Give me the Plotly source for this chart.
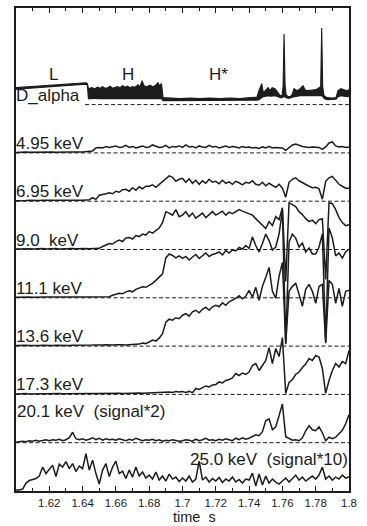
import numpy as np
import plotly.graph_objects as go

# ---------------------------------------------------------------------------
# Soft X-ray spectrometer channels, sampled every 2 ms from 1.60 s to 1.80 s
# (stacked, each channel drawn on its own zero line)
# ---------------------------------------------------------------------------
time_s = np.round(np.linspace(1.6, 1.8, 101), 4)

ch_4_95 = [
    0.5, 0.8, 0.6, 0.9, 0.7, 0.8, 0.6, 1.0, 0.7, 0.9,
    0.8, 1.0, 0.7, 0.9, 1.1, 0.8, 1.0, 0.9, 1.2, 1.0,
    1.0, 1.1, 1.3, 2.0, 5.0, 5.5, 5.0, 6.5, 5.5, 6.0,
    7.0, 5.5, 6.0, 7.5, 5.5, 6.5, 5.0, 6.0, 7.0, 5.5,
    6.0, 8.0, 6.5, 5.5, 6.0, 7.5, 5.0, 6.5, 6.0, 7.0,
    5.5, 8.0, 6.0, 6.5, 5.0, 7.0, 6.0, 5.5, 7.5, 6.0,
    6.5, 5.0, 6.0, 7.0, 5.5, 6.5, 6.0, 5.0, 6.5, 5.5,
    6.0, 5.0, 5.5, 4.5, 6.0, 5.0, 6.5, 5.0, 5.5, 5.0,
    5.0, 2.5, 5.0, 8.0, 9.0, 7.5, 6.5, 6.0, 5.5, 6.0,
    6.0, 5.5, 3.5, 6.0, 10.0, 11.0, 7.0, 6.0, 6.5, 5.5,
    6.0]

ch_6_95 = [
    0.5, 0.8, 0.6, 0.7, 0.9, 0.6, 0.8, 0.7, 0.9, 0.8,
    0.7, 0.9, 0.8, 1.0, 0.8, 0.9, 1.0, 0.8, 1.1, 0.9,
    1.0, 1.2, 1.5, 3.5, 1.8, 6.0, 6.5, 7.5, 8.5, 7.5,
    10.0, 9.0, 11.5, 12.0, 10.0, 13.5, 11.0, 14.5, 12.5, 15.0,
    15.0, 16.5, 14.0, 17.0, 20.0, 23.5, 25.5, 24.0, 20.0, 22.0,
    23.0, 19.0, 22.5, 18.0, 21.0, 17.0, 20.5, 18.0, 22.0, 19.0,
    20.0, 17.5, 21.0, 18.0, 19.5, 17.0, 20.0, 18.5, 16.5, 19.0,
    18.0, 20.5, 17.0, 16.0, 19.0, 15.5, 18.0, 16.0, 14.0, 17.0,
    13.0, 4.0, 19.0, 22.0, 23.5, 20.5, 18.5, 17.0, 15.0, 13.5,
    14.0, 12.5, 2.0, 20.0, 23.5, 25.0, 21.0, 17.0, 15.0, 13.0,
    13.0]

ch_9_0 = [
    0.6, 0.8, 0.5, 0.9, 0.7, 0.6, 0.8, 0.7, 0.9, 0.6,
    0.8, 0.7, 0.9, 0.6, 0.8, 1.0, 0.7, 0.9, 0.8, 1.0,
    0.8, 1.0, 0.7, 1.0, 0.9, 1.2, 3.0, 4.5, 6.0, 5.5,
    8.0, 9.5, 8.0, 11.5, 12.0, 10.5, 14.0, 13.0, 15.5, 14.5,
    18.0, 16.5, 19.5, 21.5, 27.0, 38.0, 36.5, 34.5, 40.0, 33.0,
    34.5, 38.0, 33.0, 36.5, 31.5, 34.5, 36.5, 32.0, 35.5, 38.0,
    34.5, 36.5, 38.5, 34.5, 37.5, 36.0, 38.0, 40.0, 38.5, 37.0,
    36.0, 34.5, 31.0, 28.0, 24.5, 21.0, 28.0, 24.0, 33.0, 30.0,
    42.0, -32.0, 47.0, 45.0, 43.0, 38.0, 35.0, 31.0, 28.0, 29.5,
    26.0, 30.0, 31.0, -30.0, 47.0, 46.0, 40.0, 32.0, 27.0, 24.0,
    25.0]

ch_11_1 = [
    0.6, 0.8, 0.5, 0.7, 0.9, 0.6, 0.8, 0.7, 0.5, 0.8,
    0.7, 0.9, 0.6, 0.8, 0.7, 0.9, 0.8, 0.6, 0.9, 0.7,
    0.8, 1.0, 0.9, 1.1, 0.8, 1.0, 1.2, 0.9, 1.1, 2.5,
    3.5, 4.5, 4.0, 6.0, 7.0, 6.0, 8.5, 9.5, 11.0, 10.5,
    12.5, 14.5, 17.5, 21.0, 24.0, 40.0, 44.0, 42.5, 40.0, 42.0,
    39.5, 41.5, 38.0, 41.0, 43.5, 39.5, 42.5, 45.0, 41.5, 43.5,
    44.5, 46.0, 43.0, 47.5, 45.0, 48.0, 47.0, 50.5, 49.0, 52.5,
    49.5, 61.0, 52.5, 46.0, 54.5, 64.0, 57.5, 48.0, 51.0, 64.0,
    88.0, -45.0, 56.0, 64.0, 60.0, 51.0, 55.0, 46.0, 50.0, 44.0,
    44.0, 51.0, 64.0, -44.0, 70.0, 60.0, 42.0, 45.0, 40.0, 46.0,
    49.0]

ch_13_6 = [
    0.5, 0.8, 0.6, 0.9, 0.7, 0.5, 0.8, 0.6, 0.9, 0.7,
    0.8, 0.6, 0.9, 0.7, 1.0, 0.8, 0.6, 0.9, 0.8, 1.0,
    0.9, 1.1, 0.8, 1.0, 1.2, 0.9, 1.1, 1.3, 1.0, 1.2,
    1.3, 1.0, 1.4, 1.2, 1.6, 1.3, 1.8, 2.0, 3.0, 2.5,
    4.5, 6.0, 5.0, 8.0, 12.5, 24.0, 27.0, 26.0, 28.5, 27.5,
    31.0, 32.5, 30.0, 34.5, 36.0, 33.5, 37.0, 39.0, 36.0, 39.5,
    41.0, 39.5, 43.5, 41.0, 44.5, 46.0, 48.0, 50.5, 47.5, 50.0,
    56.0, 49.0, 59.0, 46.0, 60.0, 69.0, 79.0, 55.0, 48.0, 70.0,
    84.0, 2.0, 55.0, 60.0, 63.0, 52.0, 40.0, 57.0, 62.0, 55.0,
    43.0, 60.0, 62.0, 3.0, 66.0, 62.0, 43.0, 58.0, 40.0, 55.0,
    56.0]

ch_17_3 = [
    0.5, 0.7, 0.6, 0.8, 0.5, 0.7, 0.6, 0.8, 0.7, 0.6,
    0.8, 0.6, 0.7, 0.9, 0.7, 0.8, 0.6, 0.9, 0.7, 0.8,
    0.7, 0.9, 0.8, 1.0, 0.8, 0.9, 1.1, 0.8, 1.0, 0.9,
    1.0, 1.2, 0.9, 1.1, 1.3, 1.0, 1.2, 1.4, 1.1, 1.3,
    1.2, 1.5, 1.3, 1.8, 1.6, 2.2, 2.5, 2.0, 2.8, 2.4,
    2.8, 2.0, 3.0, 1.8, 6.0, 5.0, 7.0, 8.5, 7.5, 9.5,
    10.0, 12.5, 11.5, 14.0, 15.0, 16.5, 21.0, 19.0, 21.5, 20.0,
    22.5, 29.0, 31.0, 24.0, 29.0, 34.0, 47.0, 31.0, 46.0, 38.0,
    57.0, 1.0, 12.0, 15.0, 20.0, 22.5, 27.0, 30.5, 36.0, 34.0,
    39.0, 37.5, 26.0, 1.0, 14.0, 24.0, 31.0, 27.5, 33.0, 31.0,
    44.0]

ch_20_1 = [  # signal x2
    0.5, 1.0, 1.5, 1.0, 2.0, 1.5, 2.5, 1.5, 2.0, 3.0,
    2.0, 3.0, 2.5, 3.5, 2.0, 3.0, 5.0, 10.5, 4.0, 3.0,
    4.0, 2.5, 3.5, 5.0, 3.0, 4.5, 2.5, 4.0, 3.0, 3.5,
    2.5, 4.0, 3.0, 2.0, 3.5, 2.5, 4.5, 3.0, 2.0, 3.0,
    2.5, 3.5, 2.0, 3.0, 1.5, 2.5, 2.0, 3.0, 2.5, 1.5,
    2.0, 3.0, 2.5, 1.5, 3.5, 2.0, 3.0, 4.5, 2.5, 3.0,
    2.0, 3.5, 2.5, 4.0, 3.0, 2.0, 4.5, 3.0, 5.0, 3.5,
    4.5, 6.0, 8.0, 7.0, 11.0, 22.0, 24.0, 13.0, 16.0, 27.0,
    39.0, 6.0, 4.0, 2.5, 3.0, 2.0, 5.0, 12.0, 17.0, 13.0,
    12.0, 16.0, 10.0, 2.0, 5.5, 4.0, 5.5, 9.0, 12.5, 19.0,
    28.0]

ch_25_0 = [  # signal x10
    1.0, 1.0, 2.0, 8.0, 10.5, 11.5, 12.5, 15.0, 24.0, 17.5,
    21.5, 26.0, 14.5, 27.0, 24.0, 29.5, 22.5, 27.5, 19.5, 25.0,
    22.5, 37.5, 21.0, 31.0, 17.5, 7.0, 21.0, 27.5, 14.5, 24.0,
    30.0, 17.5, 20.0, 12.5, 21.0, 14.0, 24.0, 15.0, 19.0, 13.0,
    16.0, 12.0, 19.0, 11.0, 15.0, 10.0, 17.0, 12.0, 14.0, 9.5,
    13.0, 10.0, 15.0, 9.0, 12.0, 30.0, 11.0, 14.0, 9.0, 12.5,
    10.0, 13.5, 8.5, 12.0, 10.0, 14.0, 9.0, 11.5, 8.0, 12.0,
    11.0, 18.0, 5.0, 17.0, 6.0, 15.0, 8.0, 12.0, 9.0, 7.0,
    10.0, 13.0, 9.0, 12.0, 16.0, 11.0, 14.0, 10.0, 13.0, 15.0,
    12.0, 16.0, 24.0, 12.0, 15.0, 11.0, 14.0, 12.0, 16.0, 13.0,
    14.0]

# D_alpha envelope (upper / lower edge of the fast-oscillating signal)
dalpha_t = [
    1.6000, 1.6080, 1.6144, 1.6220, 1.6294, 1.6360, 1.6420, 1.6429, 1.6435, 1.6455,
    1.6474, 1.6490, 1.6505, 1.6520, 1.6535, 1.6550, 1.6565, 1.6580, 1.6595, 1.6610,
    1.6625, 1.6640, 1.6655, 1.6670, 1.6685, 1.6700, 1.6715, 1.6733, 1.6745, 1.6757,
    1.6769, 1.6785, 1.6805, 1.6820, 1.6835, 1.6853, 1.6862, 1.6874, 1.6883, 1.6925,
    1.6985, 1.7045, 1.7105, 1.7165, 1.7225, 1.7285, 1.7345, 1.7405, 1.7447, 1.7459,
    1.7476, 1.7485, 1.7502, 1.7514, 1.7526, 1.7538, 1.7556, 1.7574, 1.7586, 1.7598,
    1.7604, 1.7610, 1.7616, 1.7622, 1.7634, 1.7646, 1.7658, 1.7670, 1.7688, 1.7706,
    1.7724, 1.7736, 1.7754, 1.7778, 1.7802, 1.7820, 1.7830, 1.7836, 1.7842, 1.7850,
    1.7868, 1.7898, 1.7922, 1.7934, 1.7952, 1.7970, 1.7988, 1.8000]
dalpha_hi = [
    17.0, 18.0, 18.5, 19.5, 20.5, 21.5, 22.0, 21.0, 16.0, 17.0,
    16.0, 17.5, 16.5, 18.0, 16.5, 17.0, 18.5, 16.5, 17.5, 18.0,
    17.0, 19.0, 17.5, 18.5, 17.0, 18.0, 17.5, 20.0, 18.0, 24.0,
    19.0, 18.0, 19.5, 18.0, 19.0, 22.0, 19.0, 21.0, 7.0, 6.5,
    6.0, 6.5, 6.0, 6.5, 6.0, 6.5, 6.0, 7.0, 7.5, 14.0,
    21.0, 12.0, 15.0, 17.0, 14.0, 17.0, 16.0, 12.0, 9.0, 9.0,
    18.0, 71.0, 20.0, 10.0, 8.0, 8.0, 10.0, 16.0, 14.0, 16.0,
    19.0, 15.0, 14.0, 14.5, 15.0, 17.0, 18.0, 77.0, 18.0, 9.0,
    7.0, 6.5, 7.0, 14.0, 16.0, 15.0, 14.0, 15.0]
dalpha_lo = [
    15.5, 16.5, 17.0, 18.0, 19.0, 20.0, 20.5, 19.0, 6.0, 6.0,
    6.5, 6.0, 6.0, 6.5, 6.0, 6.0, 6.5, 6.0, 6.0, 6.5,
    6.0, 6.0, 6.5, 6.0, 6.0, 6.5, 6.0, 6.0, 6.5, 6.0,
    6.0, 6.5, 6.0, 6.0, 6.5, 6.0, 6.0, 6.0, 4.0, 4.0,
    4.0, 4.5, 4.0, 4.5, 4.0, 4.0, 4.5, 4.5, 4.5, 5.0,
    7.0, 8.0, 8.5, 9.0, 8.5, 9.0, 9.0, 8.0, 7.0, 7.0,
    8.0, 8.0, 8.0, 7.0, 6.5, 6.5, 7.5, 8.0, 9.0, 9.0,
    9.0, 9.0, 9.0, 9.0, 9.0, 9.0, 9.0, 9.0, 8.0, 6.0,
    5.0, 5.0, 5.5, 8.0, 9.0, 8.5, 8.0, 8.0]

channel_labels = [
    "D_alpha", "4.95 keV", "6.95 keV", "9.0\u00a0\u00a0keV", "11.1 keV",
    "13.6 keV", "17.3 keV", "20.1 keV\u00a0\u00a0(signal*2)",
    "25.0 keV\u00a0\u00a0(signal*10)",
]
phase_labels = ["L", "H", "H*"]
phase_times = [1.6225, 1.6670, 1.7215]

tick_vals = [1.62, 1.64, 1.66, 1.68, 1.70, 1.72, 1.74, 1.76, 1.78, 1.80]
tick_text = ["1.62", "1.64", "1.66", "1.68", "1.7", "1.72", "1.74", "1.76", "1.78", "1.8"]
minor_vals = [1.61, 1.63, 1.65, 1.67, 1.69, 1.71, 1.73, 1.75, 1.77, 1.79]

# ---------------------------------------------------------------------------
SPACING = 48.5          # vertical distance between stacked channel zero lines
INK = "#1c1c1c"
FONT = "Liberation Sans"

sxr_channels = [ch_4_95, ch_6_95, ch_9_0, ch_11_1, ch_13_6, ch_17_3, ch_20_1, ch_25_0]
n_rows = len(sxr_channels) + 1
offsets = [SPACING * (n_rows - 1 - k) for k in range(n_rows)]  # top row first

fig = go.Figure()

# zero lines (dashed) for every channel except the bottom one, which sits on the axis
for k in range(n_rows - 1):
    x_start = 1.6415 if k == 0 else 1.6
    fig.add_shape(type="line", xref="x", yref="y", x0=x_start, x1=1.8,
                  y0=offsets[k], y1=offsets[k], layer="below",
                  line=dict(color=INK, width=1, dash="4px,2.5px"))

# D_alpha: filled band between the envelopes
d_off = offsets[0]
fig.add_trace(go.Scatter(x=dalpha_t, y=[v + d_off for v in dalpha_lo], mode="lines",
                         line=dict(color=INK, width=1.1), hoverinfo="skip",
                         showlegend=False))
fig.add_trace(go.Scatter(x=dalpha_t, y=[v + d_off for v in dalpha_hi], mode="lines",
                         line=dict(color=INK, width=1.1), fill="tonexty",
                         fillcolor=INK, hoverinfo="skip", showlegend=False))

for k, values in enumerate(sxr_channels, start=1):
    assert len(values) == len(time_s)
    fig.add_trace(go.Scatter(x=time_s, y=[v + offsets[k] for v in values],
                             mode="lines", line=dict(color=INK, width=1.5),
                             hoverinfo="skip", showlegend=False))

# empty trace that carries the mirrored top axis (ticks only)
fig.add_trace(go.Scatter(x=[1.6, 1.8], y=[None, None], xaxis="x2", mode="lines",
                         hoverinfo="skip", showlegend=False))

annotations = []
label_font = dict(family=FONT, size=17, color=INK)
for k, text in enumerate(channel_labels):
    if k == n_rows - 2:          # 20.1 keV label sits higher above its zero line
        annotations.append(dict(x=1.6, y=offsets[k] + 31, xref="x", yref="y",
                                text=text, showarrow=False, xanchor="left",
                                yanchor="middle", font=label_font, xshift=-1))
    elif k == n_rows - 1:        # 25.0 keV label is right-aligned
        annotations.append(dict(x=1.8, y=offsets[k] + 32, xref="x", yref="y",
                                text=text, showarrow=False, xanchor="right",
                                yanchor="middle", font=label_font, xshift=1))
    else:
        annotations.append(dict(x=1.6, y=offsets[k], xref="x", yref="y",
                                text=text, showarrow=False, xanchor="left",
                                yanchor="bottom", font=label_font, xshift=-2,
                                yshift=-2))

for text, t in zip(phase_labels, phase_times):
    annotations.append(dict(x=t, y=offsets[0] + 30.5, xref="x", yref="y", text=text,
                            showarrow=False, xanchor="center", yanchor="middle",
                            font=label_font))

annotations.append(dict(x=1.7075, y=-0.0545, xref="x", yref="paper", text="time\u00a0\u00a0s",
                        showarrow=False, xanchor="center", yanchor="middle",
                        borderpad=0, font=dict(family=FONT, size=14.5, color=INK)))

tick_style = dict(ticks="inside", ticklen=5, tickwidth=1.2, tickcolor=INK,
                  minor=dict(tickvals=minor_vals, ticks="inside", ticklen=3,
                             tickwidth=1.2, tickcolor=INK, showgrid=False),
                  showgrid=False, zeroline=False)

fig.update_layout(
    width=367, height=526,
    margin=dict(l=16, r=18, t=6, b=35),
    paper_bgcolor="white", plot_bgcolor="white",
    annotations=annotations,
    xaxis=dict(range=[1.6, 1.8], tickvals=tick_vals, ticktext=tick_text,
               showline=True, linewidth=1.6, linecolor=INK, mirror=True,
               tickfont=dict(family=FONT, size=11.5, color=INK), **tick_style),
    xaxis2=dict(range=[1.6, 1.8], tickvals=tick_vals, overlaying="x", side="top",
                showticklabels=False, showline=False, **tick_style),
    yaxis=dict(range=[0, SPACING * 10], showline=True, linewidth=1.6, linecolor=INK,
               mirror=True, ticks="", showticklabels=False, showgrid=False,
               zeroline=False),
)

fig.write_html("out.html")
